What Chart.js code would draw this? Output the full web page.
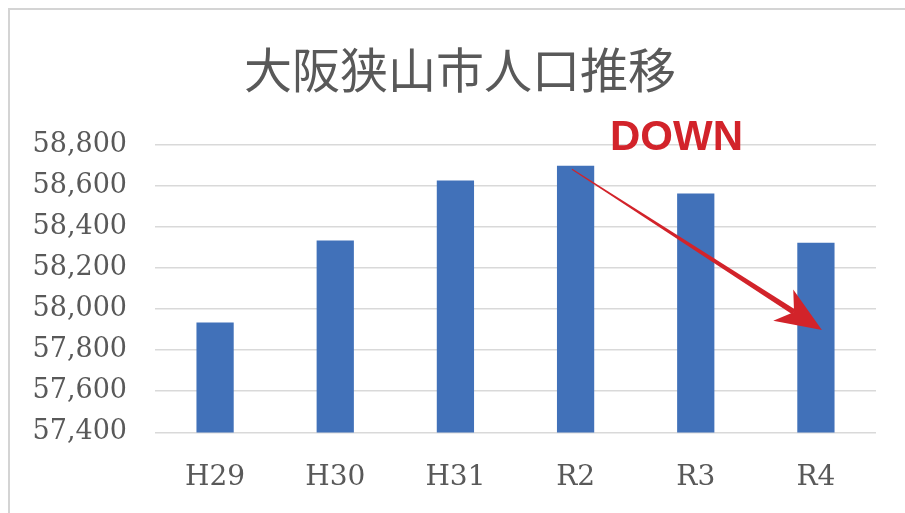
<!DOCTYPE html>
<html>
<head>
<meta charset="utf-8">
<script src="https://cdn.jsdelivr.net/npm/chart.js@4.4.1/dist/chart.umd.min.js"></script>
<style>
  html, body { margin: 0; padding: 0; background: #fff; overflow: hidden; }
  #wrap { position: relative; width: 905px; height: 513px; }
  #frame { position: absolute; left: 8px; top: 8px; right: -20px; bottom: -20px;
           border-top: 2px solid #d4d4d4; border-left: 2px solid #d4d4d4; }
  canvas { position: absolute; left: 0; top: 0; }
</style>
</head>
<body>
<div id="wrap">
  <div id="frame"></div>
  <canvas id="chart" width="905" height="513"></canvas>
</div>
<script>
const years = ["H29", "H30", "H31", "R2", "R3", "R4"];
const population = [57935, 58333, 58625, 58697, 58562, 58322];
const yMin = 57400;
const yMax = 58800;
const yStep = 200;
const chartTitle = "大阪狭山市人口推移";
// trend annotation: [category index, value]
const trendFrom = [2.97, 58680];
const trendTo = [5.05, 57898];
const trendLabel = "DOWN";
const trendLabelAt = [3.84, 58776];

const tickColor = "#595959";

const trendArrow = {
  id: "trendArrow",
  afterDatasetsDraw(chart) {
    const { ctx, scales: { x, y } } = chart;
    const x0 = x.getPixelForValue(trendFrom[0]), y0 = y.getPixelForValue(trendFrom[1]);
    const x1 = x.getPixelForValue(trendTo[0]), y1 = y.getPixelForValue(trendTo[1]);
    const len = Math.hypot(x1 - x0, y1 - y0);
    const ux = (x1 - x0) / len, uy = (y1 - y0) / len;
    const nx = -uy, ny = ux;
    const headLen = 46, headW = 18.5;
    const notch = headLen * 0.72;
    const sx = x1 - ux * notch, sy = y1 - uy * notch;
    ctx.save();
    ctx.fillStyle = "#d2232a";
    // tapered shaft
    ctx.beginPath();
    ctx.moveTo(x0 + nx * 0.5, y0 + ny * 0.5);
    ctx.lineTo(sx + nx * 2.8, sy + ny * 2.8);
    ctx.lineTo(sx - nx * 2.8, sy - ny * 2.8);
    ctx.lineTo(x0 - nx * 0.5, y0 - ny * 0.5);
    ctx.closePath();
    ctx.fill();
    // head
    ctx.beginPath();
    ctx.moveTo(x1, y1);
    ctx.lineTo(x1 - ux * headLen + nx * headW, y1 - uy * headLen + ny * headW);
    ctx.lineTo(sx, sy);
    ctx.lineTo(x1 - ux * headLen - nx * headW, y1 - uy * headLen - ny * headW);
    ctx.closePath();
    ctx.fill();
    // label
    ctx.font = 'bold 42px "Liberation Sans", Arial, sans-serif';
    ctx.textAlign = "center";
    ctx.textBaseline = "alphabetic";
    ctx.fillText(trendLabel, x.getPixelForValue(trendLabelAt[0]), y.getPixelForValue(trendLabelAt[1]));
    ctx.restore();
  }
};

new Chart(document.getElementById("chart").getContext("2d"), {
  type: "bar",
  data: {
    labels: years,
    datasets: [{
      label: "人口",
      data: population,
      backgroundColor: "#4171b9",
      barPercentage: 0.31,
      categoryPercentage: 1.0
    }]
  },
  options: {
    responsive: false,
    animation: false,
    layout: { padding: { left: 15, right: 0, top: 0, bottom: -11 } },
    plugins: {
      legend: { display: false },
      tooltip: { enabled: false },
      title: {
        display: true,
        text: chartTitle,
        color: tickColor,
        font: { family: '"Noto Sans CJK JP", sans-serif', size: 48, weight: "normal" },
        padding: { top: 41, bottom: 46 }
      }
    },
    scales: {
      x: {
        grid: { display: false, drawTicks: false },
        border: { display: false },
        ticks: {
          color: tickColor,
          padding: 29,
          font: { family: '"DejaVu Serif", serif', size: 28 }
        }
      },
      y: {
        min: yMin,
        max: yMax,
        afterFit(scale) { scale.width = 140; },
        grid: { color: "#d9d9d9", lineWidth: 1.6, drawTicks: false },
        border: { display: false },
        ticks: {
          stepSize: yStep,
          color: tickColor,
          padding: 28,
          font: { family: '"DejaVu Serif", serif', size: 27 },
          callback: (v) => v.toLocaleString("en-US")
        }
      },
      // empty right margin so the title centres like the original
      yRight: {
        position: "right",
        display: true,
        afterFit(scale) { scale.width = 29; },
        grid: { display: false, drawTicks: false },
        border: { display: false },
        ticks: { display: false }
      }
    }
  },
  plugins: [trendArrow]
});
</script>
</body>
</html>
